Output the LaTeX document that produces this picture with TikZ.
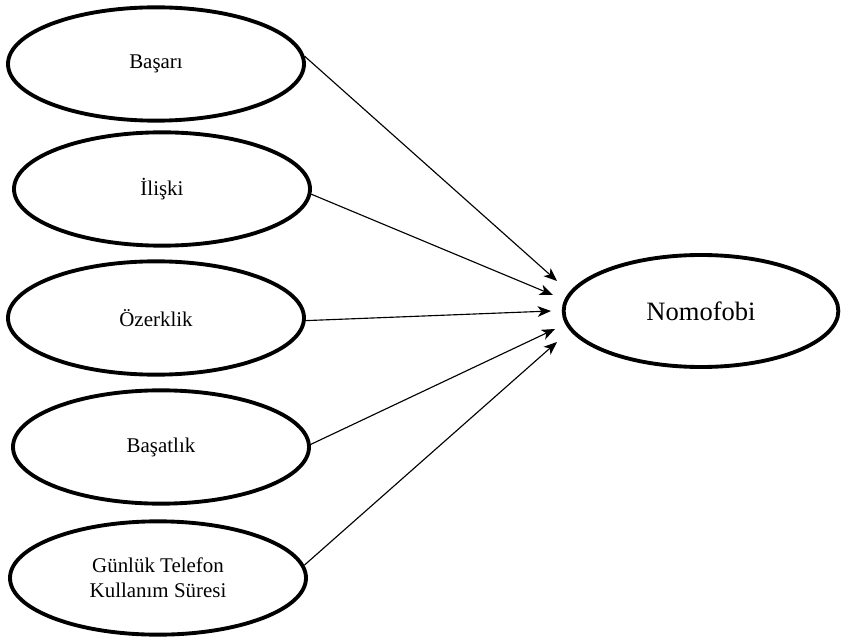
\documentclass[tikz,border=0pt]{standalone}
\usepackage{fontspec}
\setmainfont{Liberation Serif}
\usetikzlibrary{shapes.geometric,arrows.meta}
\begin{document}
\begin{tikzpicture}[x=0.75pt,y=-0.75pt,
  factor/.style={ellipse,draw,line width=2.9pt,minimum width=222pt,minimum height=85pt,
     inner sep=0pt,font=\fontsize{15.7}{18.7}\selectfont,align=center},
  target/.style={ellipse,draw,line width=2.9pt,minimum width=206pt,minimum height=84pt,
     inner sep=0pt,font=\fontsize{19.9}{23}\selectfont},
  conn/.style={line width=0.85pt,-{Stealth[length=10pt,width=8pt,inset=2.8pt]}}]
\useasboundingbox (0,0) rectangle (841,641);
\node[factor] (a) at (156,64) {Başarı};
\node[factor] (b) at (162,189) {İlişki};
\node[factor] (c) at (156,318) {Özerklik};
\node[factor] (d) at (161,447) {Başatlık};
\node[factor] (e) at (158,578) {Günlük Telefon\\Kullanım Süresi};
\node[target] (n) at (701,311) {Nomofobi};
\coordinate (t1) at (557,281);
\coordinate (t2) at (553,295);
\coordinate (t3) at (551,311);
\coordinate (t4) at (555,329);
\coordinate (t5) at (557,342);
\draw[conn] (a.3) -- (t1);
\draw[conn] (b.-2) -- (t2);
\draw[conn] (c.-1) -- (t3);
\draw[conn] (d.1) -- (t4);
\draw[conn] (e.5) -- (t5);
\end{tikzpicture}
\end{document}
